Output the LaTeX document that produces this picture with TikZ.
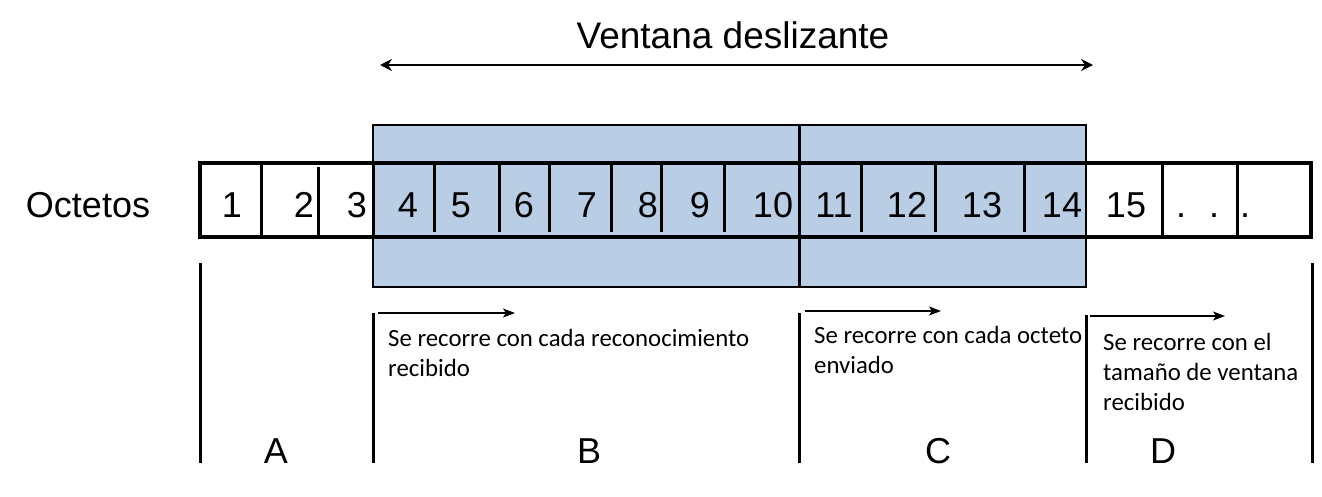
\documentclass[tikz,border=0pt]{standalone}
\usepackage{fontspec}
\setmainfont{Liberation Sans}
\newfontfamily\calfont{Carlito}
\usetikzlibrary{arrows.meta}
\definecolor{winblue}{RGB}{185,205,229}
\begin{document}
\begin{tikzpicture}[x=1pt,y=-1pt,
  rowline/.style={line width=3.5pt},
  cellline/.style={line width=3pt},
  secline/.style={line width=3pt},
  boxline/.style={line width=2pt},
  big/.style={font=\fontsize{36}{42}\selectfont, inner sep=0pt, anchor=base},
  title/.style={font=\fontsize{37}{44}\selectfont, inner sep=0pt, anchor=base},
  desc/.style={font=\calfont\fontsize{24.8}{30}\selectfont, inner sep=0pt, anchor=base west},
  movearrow/.style={-{Stealth[length=12pt,width=9pt,inset=3pt]}, line width=1.5pt},
  winarrow/.style={{Stealth[length=12pt,width=12pt,inset=4pt]}-{Stealth[length=12pt,width=12pt,inset=4pt]}, line width=2pt}
]
\useasboundingbox (0,0) rectangle (1322,496);
% title and window arrow
\node[title] (title) at (733,48) {Ventana deslizante};
\coordinate (wl) at (380,65);
\coordinate (wr) at (1093,65);
\draw[winarrow] (wl) -- (wr);
% blue window
\fill[winblue] (373,125) rectangle (1086,287);
% octet row
\draw[rowline] (200,163) rectangle (1311,237);
\foreach \x in {261,373,1162,1237} \draw[cellline] (\x,163) -- (\x,237);
\draw[cellline] (318,167) -- (318,237);
\foreach \x in {434,499,549,611,661,724,861,935,1024} \draw[cellline] (\x,163) -- (\x,232);
% window border and divider
\draw[boxline] (373,125) rectangle (1086,287);
\draw[secline] (799,125) -- (799,287);
% labels
\node[big] (oct) at (88,217) {Octetos};
\node[big] (c1) at (232,217) {1};
\node[big] (c2) at (304,217) {2};
\node[big] (c3) at (357,217) {3};
\node[big] (c4) at (408,217) {4};
\node[big] (c5) at (461,217) {5};
\node[big] (c6) at (524,217) {6};
\node[big] (c7) at (587,217) {7};
\node[big] (c8) at (648,217) {8};
\node[big] (c9) at (700,217) {9};
\node[big] (c10) at (773,217) {10};
\node[big] (c11) at (834,217) {11};
\node[big] (c12) at (907,217) {12};
\node[big] (c13) at (982,217) {13};
\node[big] (c14) at (1062,217) {14};
\node[big] (c15) at (1126,217) {15};
\node[big] (d1) at (1181,217) {.};
\node[big] (d2) at (1214,217) {.};
\node[big] (d3) at (1245,217) {.};
% section lines
\draw[secline] (200,263) -- (200,463);
\draw[secline] (373,313) -- (373,463);
\draw[secline] (799,313) -- (799,463);
\draw[secline] (1086,315) -- (1086,463);
\draw[secline] (1312,263) -- (1312,463);
% movement arrows
\coordinate (bs) at (378,313); \coordinate (be) at (515,313);
\coordinate (cs) at (805,311); \coordinate (ce) at (941,311);
\coordinate (ds) at (1090,316); \coordinate (de) at (1225,316);
\draw[movearrow] (bs) -- (be);
\draw[movearrow] (cs) -- (ce);
\draw[movearrow] (ds) -- (de);
% descriptions
\node[desc] (tb1) at (388,346) {Se recorre con cada reconocimiento};
\node[desc] (tb2) at (388,376) {recibido};
\node[desc] (tc1) at (814,343) {Se recorre con cada octeto};
\node[desc] (tc2) at (814,373) {enviado};
\node[desc] (td1) at (1103,350) {Se recorre con el};
\node[desc] (td2) at (1103,380) {tamaño de ventana};
\node[desc] (td3) at (1103,410) {recibido};
% section letters
\node[big] (la) at (276,463) {A};
\node[big] (lb) at (589,463) {B};
\node[big] (lc) at (938,463) {C};
\node[big] (ld) at (1163,463) {D};
\end{tikzpicture}
\end{document}
